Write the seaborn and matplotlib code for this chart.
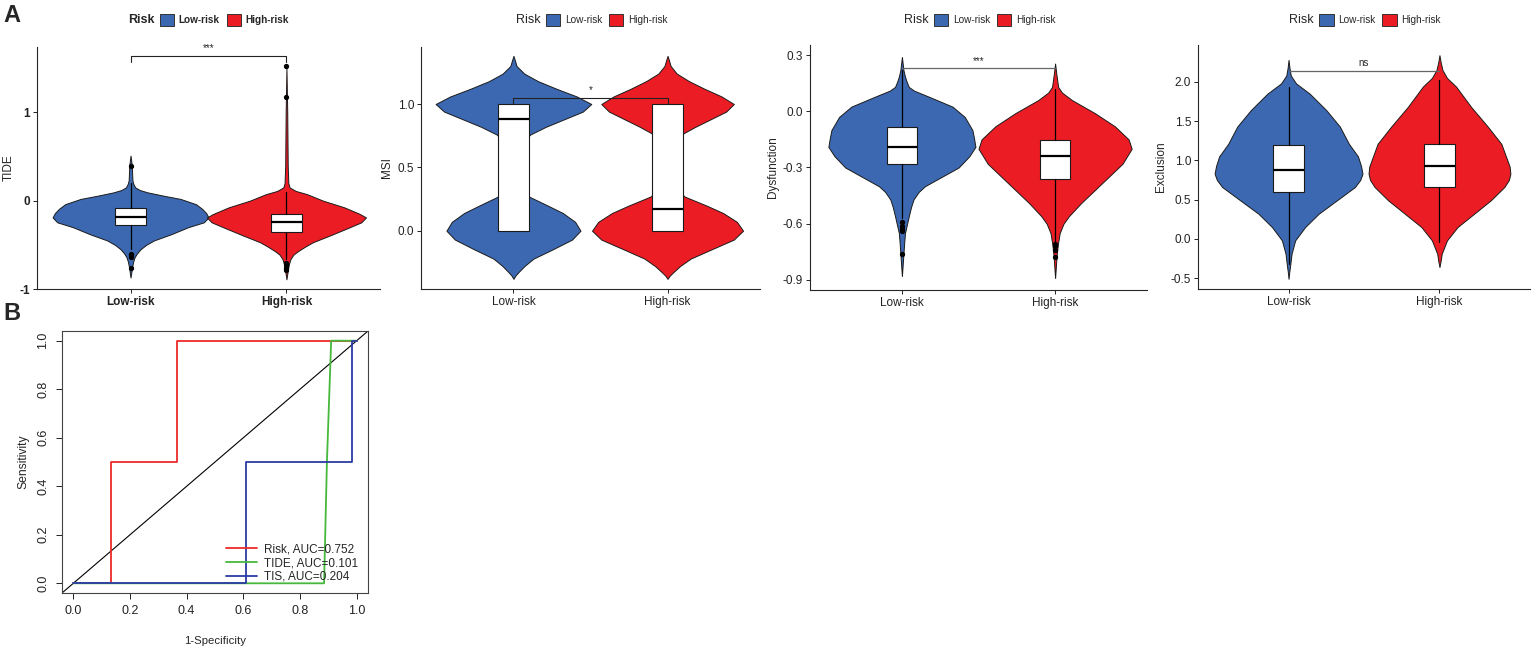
# Violines TIDE / MSI / Dysfunction / Exclusion por grupo de riesgo + curva ROC

import matplotlib
matplotlib.use("Agg")
import matplotlib.pyplot as plt
from matplotlib.patches import Patch
import numpy as np
import pandas as pd
import seaborn as sns

# --- Datos ---
grupos = ['Low-risk', 'High-risk']
colores = ['#3C68B1', '#EC1C24']

# perfiles de densidad: valor y semi-ancho relativo
tide_low_y = [-0.87, -0.80, -0.75, -0.69, -0.64, -0.60, -0.55, -0.50, -0.45, -0.38, -0.30, -0.245, -0.19, -0.14, -0.094, -0.04, 0.02, 0.057, 0.094, 0.12, 0.15, 0.19, 0.23, 0.40, 0.51]
tide_low_w = [0.0, 0.006, 0.01, 0.017, 0.026, 0.04, 0.064, 0.10, 0.15, 0.26, 0.37, 0.47, 0.50, 0.485, 0.46, 0.42, 0.32, 0.21, 0.11, 0.06, 0.03, 0.018, 0.012, 0.008, 0.0]
tide_high_y = [-0.89, -0.82, -0.77, -0.71, -0.66, -0.61, -0.57, -0.52, -0.47, -0.40, -0.32, -0.245, -0.19, -0.15, -0.075, 0.0, 0.075, 0.11, 0.15, 0.20, 0.40, 1.0, 1.5]
tide_high_w = [0.0, 0.006, 0.01, 0.017, 0.026, 0.045, 0.075, 0.12, 0.17, 0.27, 0.38, 0.48, 0.51, 0.47, 0.37, 0.235, 0.13, 0.06, 0.02, 0.012, 0.008, 0.005, 0.0]

msi_y = [-0.38, -0.355, -0.33, -0.28, -0.22, -0.15, -0.07, 0.0, 0.07, 0.14, 0.20, 0.27, 0.35, 0.5, 0.62, 0.70, 0.76, 0.82, 0.88, 0.94, 1.0, 1.06, 1.12, 1.18, 1.24, 1.30, 1.35, 1.38]
msi_low_w = [0.0, 0.012, 0.03, 0.07, 0.13, 0.25, 0.38, 0.435, 0.40, 0.32, 0.22, 0.10, 0.04, 0.015, 0.03, 0.06, 0.11, 0.21, 0.33, 0.45, 0.505, 0.41, 0.28, 0.16, 0.07, 0.02, 0.008, 0.0]
msi_high_w = [0.0, 0.014, 0.035, 0.08, 0.15, 0.28, 0.43, 0.49, 0.45, 0.36, 0.25, 0.11, 0.045, 0.015, 0.025, 0.05, 0.09, 0.18, 0.28, 0.38, 0.43, 0.35, 0.24, 0.14, 0.06, 0.02, 0.008, 0.0]

dys_low_y = [-0.88, -0.82, -0.76, -0.70, -0.65, -0.56, -0.51, -0.47, -0.43, -0.40, -0.35, -0.30, -0.24, -0.19, -0.14, -0.10, -0.03, 0.025, 0.08, 0.11, 0.13, 0.16, 0.185, 0.22, 0.29]
dys_low_w = [0.0, 0.005, 0.01, 0.015, 0.02, 0.045, 0.06, 0.076, 0.11, 0.15, 0.26, 0.37, 0.44, 0.48, 0.47, 0.46, 0.41, 0.33, 0.17, 0.08, 0.045, 0.03, 0.02, 0.01, 0.0]
dys_high_y = [-0.89, -0.83, -0.77, -0.71, -0.65, -0.60, -0.56, -0.49, -0.42, -0.35, -0.28, -0.20, -0.15, -0.08, -0.01, 0.06, 0.10, 0.13, 0.20, 0.255]
dys_high_w = [0.0, 0.005, 0.01, 0.018, 0.03, 0.055, 0.09, 0.17, 0.26, 0.35, 0.44, 0.50, 0.48, 0.39, 0.26, 0.11, 0.045, 0.02, 0.008, 0.0]

exc_low_y = [-0.51, -0.42, -0.35, -0.19, -0.02, 0.15, 0.32, 0.49, 0.66, 0.75, 0.83, 0.93, 1.05, 1.21, 1.43, 1.64, 1.85, 1.98, 2.08, 2.18, 2.28]
exc_low_w = [0.0, 0.005, 0.01, 0.02, 0.044, 0.11, 0.20, 0.32, 0.44, 0.475, 0.49, 0.48, 0.46, 0.40, 0.34, 0.25, 0.14, 0.05, 0.015, 0.006, 0.0]
exc_high_y = [-0.36, -0.28, -0.19, -0.02, 0.15, 0.32, 0.49, 0.66, 0.75, 0.83, 0.92, 1.0, 1.21, 1.43, 1.68, 1.94, 2.05, 2.15, 2.25, 2.34]
exc_high_w = [0.0, 0.008, 0.015, 0.05, 0.12, 0.23, 0.34, 0.43, 0.46, 0.47, 0.465, 0.45, 0.41, 0.32, 0.21, 0.11, 0.05, 0.02, 0.008, 0.0]

# cajas: q1, mediana, q3, bigote inferior, bigote superior, atipicos
tide_box = [(-0.28, -0.18, -0.083, -0.55, 0.20, [0.39, -0.60, -0.62, -0.64, -0.76]),
            (-0.35, -0.24, -0.15, -0.66, 0.10, [1.52, 1.17, -0.70, -0.73, -0.76, -0.79])]
msi_box = [(0.0, 0.88, 1.0, 0.0, 1.0, []),
           (0.0, 0.17, 1.0, 0.0, 1.0, [])]
dys_box = [(-0.281, -0.189, -0.082, -0.57, 0.22, [-0.59, -0.61, -0.63, -0.64, -0.76]),
           (-0.363, -0.239, -0.153, -0.69, 0.12, [-0.71, -0.72, -0.74, -0.78])]
exc_box = [(0.60, 0.88, 1.19, -0.32, 1.94, []),
           (0.66, 0.93, 1.21, -0.04, 2.03, [])]

# significancia: altura de la barra y etiqueta
signif = [(1.64, '***'), (1.05, '*'), (0.23, '***'), (2.14, 'ns')]

# ROC
risk_fpr = [0.0, 0.133, 0.133, 0.367, 0.367, 1.0]
risk_tpr = [0.0, 0.0, 0.5, 0.5, 1.0, 1.0]
tide_fpr = [0.0, 0.885, 0.895, 0.91, 1.0]
tide_tpr = [0.0, 0.0, 0.5, 1.0, 1.0]
tis_fpr = [0.0, 0.61, 0.61, 0.983, 0.983, 1.0]
tis_tpr = [0.0, 0.0, 0.5, 0.5, 1.0, 1.0]
roc_labels = ['Risk, AUC=0.752', 'TIDE, AUC=0.101', 'TIS, AUC=0.204']
roc_colores = ['#EE2A2A', '#46B83A', '#2B3BA5']

# --- Estilo ---
sns.set_theme(style="ticks")
plt.rcParams['font.family'] = ['Liberation Sans', 'DejaVu Sans']
plt.rcParams['axes.linewidth'] = 0.8

W, H = 1535, 652
fig = plt.figure(figsize=(W / 100, H / 100), dpi=100)


def pos(x0, x1, y0, y1):
    return [x0 / W, 1 - y1 / H, (x1 - x0) / W, (y1 - y0) / H]


def violin(ax, x, ys, ws, color):
    ys = np.array(ys)
    ws = np.array(ws)
    st = dict(coords=ys, vals=ws, mean=0, median=0, min=ys.min(), max=ys.max())
    parts = ax.violin([st], positions=[x], widths=[2 * ws.max()],
                      showmeans=False, showextrema=False, showmedians=False)
    for b in parts['bodies']:
        b.set_facecolor(color)
        b.set_edgecolor('#1a1a1a')
        b.set_linewidth(0.7)
        b.set_joinstyle('round')
        b.set_alpha(1)
        b.set_zorder(1)


def caja(ax, x, b):
    q1, med, q3, lo, hi, fl = b
    st = dict(q1=q1, med=med, q3=q3, whislo=lo, whishi=hi, fliers=fl)
    ax.bxp([st], positions=[x], widths=0.2, patch_artist=True, showcaps=False,
           boxprops=dict(facecolor='white', edgecolor='#1a1a1a', linewidth=0.8),
           medianprops=dict(color='black', linewidth=1.6),
           whiskerprops=dict(color='black', linewidth=0.9),
           flierprops=dict(marker='o', markerfacecolor='black', markeredgecolor='black', markersize=2.8),
           zorder=3)


def leyenda(ax, negrita):
    bb = ax.get_position()
    cx = (bb.x0 + bb.x1) / 2 + 16 / W
    peso = 'bold' if negrita else 'normal'
    handles = [Patch(facecolor=c, edgecolor='#333333', linewidth=0.7, label=g) for g, c in zip(grupos, colores)]
    leg = fig.legend(handles=handles, loc='center', bbox_to_anchor=(cx, 1 - 20 / H), ncol=2, frameon=False,
                     prop={'size': 7.2, 'weight': peso}, handlelength=1.45, handleheight=1.45,
                     handletextpad=0.45, columnspacing=0.7, borderpad=0)
    fig.canvas.draw()
    ext = leg.get_window_extent().transformed(fig.transFigure.inverted())
    fig.text(ext.x0 - 5 / W, 1 - 20 / H, 'Risk', ha='right', va='center', fontsize=9, weight=peso)


paneles = [
    (pos(37, 380, 47, 289), 'TIDE', (tide_low_y, tide_low_w), (tide_high_y, tide_high_w), tide_box,
     (-1.0, 1.74), [-1, 0, 1], '%d', True),
    (pos(421, 760, 47, 289), 'MSI', (msi_y, msi_low_w), (msi_y, msi_high_w), msi_box,
     (-0.46, 1.45), [0.0, 0.5, 1.0], '%.1f', False),
    (pos(810, 1147, 45, 290), 'Dysfunction', (dys_low_y, dys_low_w), (dys_high_y, dys_high_w), dys_box,
     (-0.954, 0.354), [-0.9, -0.6, -0.3, 0.0, 0.3], '%.1f', False),
    (pos(1198, 1530, 45, 289), 'Exclusion', (exc_low_y, exc_low_w), (exc_high_y, exc_high_w), exc_box,
     (-0.64, 2.47), [-0.5, 0.0, 0.5, 1.0, 1.5, 2.0], '%.1f', False),
]

# --- Panel A: violines ---
for i, (p, nombre, vl, vh, cajas, ylim, yt, fmt, negrita) in enumerate(paneles):
    ax = fig.add_axes(p)
    violin(ax, 0, vl[0], vl[1], colores[0])
    violin(ax, 1, vh[0], vh[1], colores[1])
    caja(ax, 0, cajas[0])
    caja(ax, 1, cajas[1])

    # barra de significancia
    ys, etiqueta = signif[i]
    d = (ylim[1] - ylim[0]) * 0.025
    if i < 2:
        ax.plot([0, 0, 1, 1], [ys - d, ys, ys, ys - d], color='#222222', lw=0.8, zorder=4)
    else:
        ax.plot([0, 1], [ys, ys], color='#666666', lw=0.9, zorder=4)
    ax.text(0.5, ys + d * 0.4, etiqueta, ha='center', va='bottom', fontsize=7, zorder=5)

    ax.set_xlim(-0.6, 1.6)
    ax.set_ylim(*ylim)
    ax.set_xticks([0, 1])
    ax.set_xticklabels(grupos)
    ax.set_yticks(yt)
    ax.set_yticklabels([fmt % v for v in yt])
    peso = 'bold' if negrita else 'normal'
    ax.tick_params(axis='both', labelsize=8.5, length=3, width=0.7, color='#222222', labelcolor='#222222', pad=2)
    for lab in ax.get_xticklabels() + ax.get_yticklabels():
        lab.set_fontweight(peso)
    ax.set_ylabel(nombre, fontsize=8.5, labelpad=3)
    ax.set_xlabel('')
    sns.despine(ax=ax)
    ax.set_facecolor('white')
    leyenda(ax, negrita)

# --- Panel B: ROC ---
roc_df = pd.DataFrame({
    'fpr': risk_fpr + tide_fpr + tis_fpr,
    'tpr': risk_tpr + tide_tpr + tis_tpr,
    'curva': [roc_labels[0]] * len(risk_fpr) + [roc_labels[1]] * len(tide_fpr) + [roc_labels[2]] * len(tis_fpr),
})

axb = fig.add_axes(pos(62, 368, 331, 593))
axb.axline((0, 0), (1, 1), color='black', lw=0.8, zorder=1)
sns.lineplot(data=roc_df, x='fpr', y='tpr', hue='curva', hue_order=roc_labels,
             palette=dict(zip(roc_labels, roc_colores)), sort=False, estimator=None,
             linewidth=1.3, ax=axb)
axb.set_xlim(-0.04, 1.04)
axb.set_ylim(-0.04, 1.04)
ticks = [0.0, 0.2, 0.4, 0.6, 0.8, 1.0]
axb.set_xticks(ticks)
axb.set_yticks(ticks)
axb.set_xticklabels(['%.1f' % t for t in ticks])
axb.set_yticklabels(['%.1f' % t for t in ticks], rotation=90, va='center')
axb.tick_params(axis='both', labelsize=9, length=4, width=0.7, color='#222222', labelcolor='#222222', pad=5)
axb.set_xlabel('1-Specificity', fontsize=8.2, labelpad=13)
axb.set_ylabel('Sensitivity', fontsize=8.7, labelpad=6)
for s in axb.spines.values():
    s.set_color('#444444')
    s.set_linewidth(0.8)
h, l = axb.get_legend_handles_labels()
axb.legend(h, l, loc='lower right', frameon=False, fontsize=8.5, handlelength=2.6,
           handletextpad=0.6, labelspacing=0.15, borderaxespad=0.45)

# etiquetas de panel
fig.text(3 / W, 1 - 16 / H, 'A', fontsize=17, weight='bold', va='center', ha='left')
fig.text(3 / W, 1 - 314 / H, 'B', fontsize=17, weight='bold', va='center', ha='left')

fig.savefig('out.png', dpi=100, facecolor='white')
